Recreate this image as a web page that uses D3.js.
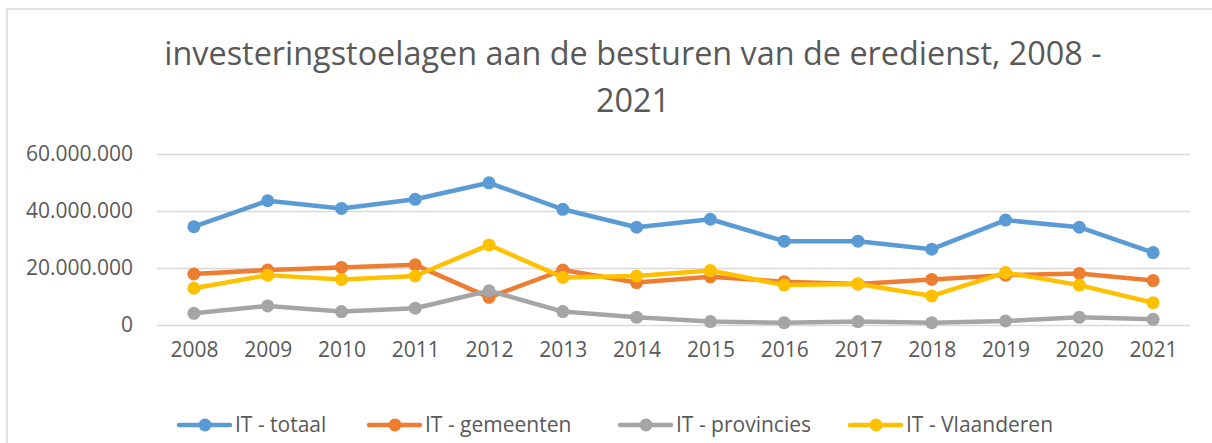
<!DOCTYPE html>
<html>
<head>
<meta charset="utf-8">
<script src="https://cdn.jsdelivr.net/npm/d3@7"></script>
<style>
  body { margin: 0; background: #fff; }
  svg { display: block; font-family: "Open Sans", sans-serif; }
</style>
</head>
<body>
<svg width="1212" height="443"></svg>
<script>
const years = ["2008","2009","2010","2011","2012","2013","2014","2015","2016","2017","2018","2019","2020","2021"];
const seriesNames = ["IT - totaal", "IT - gemeenten", "IT - provincies", "IT - Vlaanderen"];
const totaal      = [34.5, 43.6, 40.9, 44.1, 49.9, 40.6, 34.3, 37.1, 29.4, 29.4, 26.6, 36.8, 34.3, 25.4].map(v => v * 1e6);
const gemeenten   = [17.9, 19.3, 20.2, 21.1, 9.7, 19.3, 14.9, 16.9, 15.2, 14.4, 16.0, 17.5, 18.1, 15.6].map(v => v * 1e6);
const provincies  = [4.1, 6.7, 4.7, 5.9, 12.0, 4.7, 2.7, 1.2, 0.8, 1.2, 0.8, 1.4, 2.7, 2.0].map(v => v * 1e6);
const vlaanderen  = [12.9, 17.5, 16.0, 17.2, 28.1, 16.7, 17.2, 19.1, 14.0, 14.4, 10.2, 18.4, 14.0, 7.8].map(v => v * 1e6);
const yTicks = [0, 20e6, 40e6, 60e6];
const colors = ["#5B9BD5", "#ED7D31", "#A5A5A5", "#FFC000"];

const series = [totaal, gemeenten, provincies, vlaanderen];

const svg = d3.select("svg");

// Frame
svg.append("rect")
  .attr("x", 7).attr("y", 9)
  .attr("width", 1240).attr("height", 460)
  .attr("fill", "none")
  .attr("stroke", "#d9d9d9")
  .attr("stroke-width", 1.5);

// Title
const title = svg.append("text")
  .attr("text-anchor", "middle")
  .attr("fill", "#595959")
  .attr("font-size", 32);
title.append("tspan").attr("x", 633).attr("y", 65)
  .text("investeringstoelagen aan de besturen van de eredienst, 2008 -");
title.append("tspan").attr("x", 633).attr("y", 112).text("2021");
// fit first line to reference width
const w1 = title.select("tspan").node().getComputedTextLength();
title.attr("font-size", 32 * 938 / w1);

// Scales
const x = d3.scalePoint()
  .domain(years)
  .range([157, 1190])
  .padding(0.5);

const y = d3.scaleLinear()
  .domain([0, 60e6])
  .range([325, 154]);

const nl = d3.formatLocale({ decimal: ",", thousands: ".", grouping: [3], currency: ["€", ""] });
const fmt = nl.format(",.0f");

// Gridlines + y labels
svg.append("g")
  .attr("transform", "translate(157,0)")
  .call(d3.axisLeft(y).tickValues(yTicks).tickSize(-1033).tickFormat(fmt).tickPadding(24))
  .call(g => g.select(".domain").remove())
  .call(g => g.selectAll(".tick line").attr("stroke", "#d9d9d9").attr("stroke-width", 1.5))
  .call(g => g.selectAll(".tick text").attr("fill", "#595959").attr("font-size", 21)
    .attr("font-family", "Open Sans, sans-serif"));

// X axis labels
svg.append("g")
  .attr("transform", "translate(0,325)")
  .call(d3.axisBottom(x).tickSize(0).tickPadding(17))
  .call(g => g.select(".domain").remove())
  .call(g => g.selectAll(".tick text").attr("fill", "#595959").attr("font-size", 21)
    .attr("font-family", "Open Sans, sans-serif"));

// Lines and markers
const line = d3.line()
  .x((d, i) => x(years[i]))
  .y(d => y(d));

series.forEach((vals, s) => {
  const g = svg.append("g");
  g.append("path")
    .datum(vals)
    .attr("d", line)
    .attr("fill", "none")
    .attr("stroke", colors[s])
    .attr("stroke-width", 4.5)
    .attr("stroke-linejoin", "round")
    .attr("stroke-linecap", "round");
  g.selectAll("circle")
    .data(vals)
    .enter()
    .append("circle")
      .attr("cx", (d, i) => x(years[i]))
      .attr("cy", d => y(d))
      .attr("r", 6.5)
      .attr("fill", colors[s]);
});

// Legend
const legendX = [177, 367, 618, 848];
const legend = svg.append("g").attr("transform", "translate(0,425)");
seriesNames.forEach((name, s) => {
  const g = legend.append("g").attr("transform", `translate(${legendX[s]},0)`);
  g.append("line")
    .attr("x1", 2).attr("x2", 53)
    .attr("stroke", colors[s])
    .attr("stroke-width", 4.5)
    .attr("stroke-linecap", "round");
  g.append("circle").attr("cx", 28).attr("r", 6.5).attr("fill", colors[s]);
  g.append("text")
    .attr("x", 58)
    .attr("dy", "0.35em")
    .attr("fill", "#595959")
    .attr("font-size", 21)
    .text(name);
});
</script>
</body>
</html>
